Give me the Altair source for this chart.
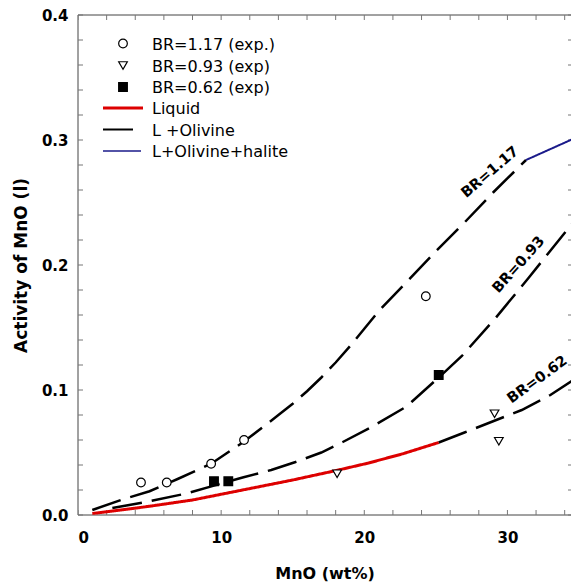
import altair as alt
import pandas as pd

# ---------------- data ----------------
# BR = 1.17, L + Olivine (dashed)
br117_ol_x = [1, 3, 5, 7, 9.3, 11.5, 13, 14, 15, 16, 17, 18, 19, 20, 21, 23, 25, 27, 29, 31.3]
br117_ol_y = [0.004, 0.012, 0.019, 0.029, 0.041, 0.058, 0.071, 0.080, 0.089, 0.099, 0.110,
              0.122, 0.135, 0.149, 0.163, 0.187, 0.211, 0.234, 0.258, 0.284]
# BR = 1.17, L + Olivine + halite (solid blue)
br117_hal_x = [31.3, 35]
br117_hal_y = [0.284, 0.303]
# BR = 0.93, L + Olivine (dashed)
br093_ol_x = [2.4, 5, 7.5, 9.5, 11.5, 13.5, 15.2, 17, 18.5, 20.5, 22.9, 23.3, 25.2,
              26.8, 29.2, 31.5, 32.9, 35]
br093_ol_y = [0.0056, 0.011, 0.017, 0.0235, 0.030, 0.036, 0.0424, 0.050, 0.0584,
              0.0704, 0.0864, 0.0904, 0.110, 0.127, 0.158, 0.190, 0.210, 0.240]
# BR = 0.62, Liquid (solid red)
br062_liq_x = [1, 3, 5, 8, 11.5, 15, 18.2, 20.3, 22.7, 25.2]
br062_liq_y = [0.0012, 0.004, 0.007, 0.012, 0.020, 0.028, 0.036, 0.0416, 0.049, 0.058]
# BR = 0.62, L + Olivine (dashed)
br062_ol_x = [25.2, 27, 29, 31, 33, 35]
br062_ol_y = [0.058, 0.066, 0.075, 0.084, 0.096, 0.111]

# experimental points
exp117_x = [4.4, 6.2, 9.3, 11.6, 24.3]
exp117_y = [0.026, 0.026, 0.041, 0.060, 0.175]
exp093_x = [18.1, 29.1, 29.4]
exp093_y = [0.033, 0.081, 0.059]
exp062_x = [9.5, 10.5, 25.2]
exp062_y = [0.027, 0.027, 0.112]

# curve labels
curve_labels = ["BR=1.17", "BR=0.93", "BR=0.62"]
curve_label_x = [28.8, 30.8, 32.1]
curve_label_y = [0.274, 0.200, 0.108]
curve_label_angle = [319.5, 312, 324]

# legend
sym_labels = ["BR=1.17 (exp.)", "BR=0.93 (exp)", "BR=0.62 (exp)"]
line_labels = ["Liquid", "L +Olivine", "L+Olivine+halite"]

x_major = [0, 10, 20, 30]
x_minor = list(range(0, 36, 2))
y_major = [0.0, 0.1, 0.2, 0.3, 0.4]
y_minor = [round(i * 0.02, 2) for i in range(0, 21)]

# ---------------- tables ----------------
rows = []
for cid, phase, xs, ys in [
    ("117a", "L +Olivine", br117_ol_x, br117_ol_y),
    ("117b", "L+Olivine+halite", br117_hal_x, br117_hal_y),
    ("093a", "L +Olivine", br093_ol_x, br093_ol_y),
    ("062a", "Liquid", br062_liq_x, br062_liq_y),
    ("062b", "L +Olivine", br062_ol_x, br062_ol_y),
]:
    for i, (xv, yv) in enumerate(zip(xs, ys)):
        rows.append({"curve": cid, "phase": phase, "x": xv, "y": yv, "i": i})
curves = pd.DataFrame(rows)

prow = []
for s, xs, ys in [(sym_labels[0], exp117_x, exp117_y),
                  (sym_labels[1], exp093_x, exp093_y),
                  (sym_labels[2], exp062_x, exp062_y)]:
    for xv, yv in zip(xs, ys):
        prow.append({"series": s, "x": xv, "y": yv})
points = pd.DataFrame(prow)

labels_df = pd.DataFrame({"text": curve_labels, "x": curve_label_x,
                          "y": curve_label_y, "angle": curve_label_angle})

FONT = "DejaVu Sans"
RED = "#dd0000"
BLUE = "#1a1a8a"
FULL_W = 501          # width the 0..35 range would need
W, H = 493, 500       # visible plot area (right edge is cut off, as in the reference)
TK = 5
X_MAX = 35 * W / FULL_W

xs_ = alt.Scale(domain=[0, X_MAX], nice=False, zero=False)
ys_ = alt.Scale(domain=[0, 0.4], nice=False, zero=False)

phase_dom = ["Liquid", "L +Olivine", "L+Olivine+halite"]

lines = alt.Chart(curves).mark_line(clip=True).encode(
    x=alt.X("x:Q", scale=xs_, axis=None),
    y=alt.Y("y:Q", scale=ys_, axis=None),
    color=alt.Color("phase:N", scale=alt.Scale(domain=phase_dom, range=[RED, "black", BLUE]), legend=None),
    strokeDash=alt.StrokeDash("phase:N", scale=alt.Scale(domain=phase_dom, range=[[1, 0], [30, 10], [1, 0]]), legend=None),
    strokeWidth=alt.StrokeWidth("phase:N", scale=alt.Scale(domain=phase_dom, range=[3, 2, 1.5]), legend=None),
    detail="curve:N",
    order="i:Q",
)

pts = alt.Chart(points).mark_point(filled=True, stroke="black", strokeWidth=1.2, size=75, opacity=1).encode(
    x=alt.X("x:Q", scale=xs_, axis=None),
    y=alt.Y("y:Q", scale=ys_, axis=None),
    shape=alt.Shape("series:N", scale=alt.Scale(domain=sym_labels, range=["circle", "triangle-down", "square"]), legend=None),
    fill=alt.Fill("series:N", scale=alt.Scale(domain=sym_labels, range=["white", "white", "black"]), legend=None),
)

clabels = alt.Chart(labels_df).mark_text(font=FONT, fontSize=14.5, fontWeight="bold", align="center", baseline="middle", color="black").encode(
    x=alt.X("x:Q", scale=xs_, axis=None),
    y=alt.Y("y:Q", scale=ys_, axis=None),
    text="text:N",
    angle=alt.Angle("angle:Q", scale=None),
)

# ---------------- axes ----------------
label_font = dict(labelFont=FONT, labelFontSize=15, labelFontWeight="bold", labelColor="black")
ax_main_x = alt.Axis(orient="bottom", values=x_major, ticks=False, tickSize=0, domain=False, grid=False,
                     labelPadding=15, title="MnO (wt%)", titleFont=FONT, titleFontSize=16,
                     titleFontWeight="bold", titlePadding=20, titleColor="black", **label_font)
ax_main_y = alt.Axis(orient="left", values=y_major, format=".1f", ticks=False, tickSize=0, domain=False,
                     grid=False, labelPadding=10, title="Activity of MnO (l)", titleFont=FONT,
                     titleFontSize=17, titleFontWeight="bold", titlePadding=11, titleColor="black", **label_font)

base_axis_data = pd.DataFrame({"x": [0, X_MAX], "y": [0, 0.4]})
axis_main = alt.Chart(base_axis_data).mark_point(opacity=0).encode(
    x=alt.X("x:Q", scale=xs_, axis=ax_main_x),
    y=alt.Y("y:Q", scale=ys_, axis=ax_main_y),
)

# frame (top, left, bottom; the right edge lies outside the picture)
FCOL = "#444444"
frame_df = pd.DataFrame({"k": [0]})
frame = [
    alt.Chart(frame_df).mark_rule(color=FCOL, strokeWidth=1).encode(x=alt.value(0), x2=alt.value(W), y=alt.value(0)),
    alt.Chart(frame_df).mark_rule(color=FCOL, strokeWidth=1).encode(x=alt.value(0), x2=alt.value(W), y=alt.value(H)),
    alt.Chart(frame_df).mark_rule(color=FCOL, strokeWidth=1).encode(x=alt.value(0), y=alt.value(0), y2=alt.value(H)),
]

# inward ticks
xt = pd.DataFrame({"v": x_minor})
yt = pd.DataFrame({"v": y_minor})
TCOL = "#777777"
tick_bottom = alt.Chart(xt).mark_rule(color=TCOL, strokeWidth=1, clip=True).encode(
    x=alt.X("v:Q", scale=xs_, axis=None), y=alt.value(H), y2=alt.value(H - TK))
tick_top = alt.Chart(xt).mark_rule(color=TCOL, strokeWidth=1, clip=True).encode(
    x=alt.X("v:Q", scale=xs_, axis=None), y=alt.value(0), y2=alt.value(TK))
tick_left = alt.Chart(yt).mark_rule(color=TCOL, strokeWidth=1).encode(
    y=alt.Y("v:Q", scale=ys_, axis=None), x=alt.value(0), x2=alt.value(TK))
tick_right = alt.Chart(yt).mark_rule(color=TCOL, strokeWidth=1).encode(
    y=alt.Y("v:Q", scale=ys_, axis=None), x=alt.value(W - 3), x2=alt.value(W))

# ---------------- legend ----------------
leg_layers = []
sym_shapes = ["circle", "triangle-down", "square"]
sym_fills = ["white", "white", "black"]
row_y = [28.5, 50.5, 72, 93, 114.5, 136]
for i, lab in enumerate(sym_labels):
    d = pd.DataFrame({"label": [lab]})
    leg_layers.append(alt.Chart(d).mark_point(shape=sym_shapes[i], filled=True, fill=sym_fills[i], stroke="black",
                                              strokeWidth=1.2, size=75, opacity=1).encode(
        x=alt.value(45), y=alt.value(row_y[i])))
    leg_layers.append(alt.Chart(d).mark_text(font=FONT, fontSize=16, align="left", baseline="middle", color="black").encode(
        x=alt.value(74), y=alt.value(row_y[i] + 1), text="label:N"))
line_cols = [RED, "black", BLUE]
line_w = [3, 2, 1.5]
line_end = [65, 55, 63]
for i, lab in enumerate(line_labels):
    d = pd.DataFrame({"label": [lab]})
    yy = row_y[3 + i]
    leg_layers.append(alt.Chart(d).mark_rule(color=line_cols[i], strokeWidth=line_w[i]).encode(
        x=alt.value(25), x2=alt.value(line_end[i]), y=alt.value(yy)))
    leg_layers.append(alt.Chart(d).mark_text(font=FONT, fontSize=16, align="left", baseline="middle", color="black").encode(
        x=alt.value(74), y=alt.value(yy + 1), text="label:N"))

chart = alt.layer(axis_main, *frame, tick_bottom, tick_top, tick_left, tick_right,
                  lines, pts, clabels, *leg_layers).resolve_axis(
    x="independent", y="independent"
).properties(
    width=W, height=H,
    padding={"left": 70, "top": 7, "right": 0, "bottom": 72},
    autosize=alt.AutoSizeParams(type="none"),
    background="white",
).configure_view(stroke=None)

chart.save("out.html", embed_options={"renderer": "svg", "actions": False})
